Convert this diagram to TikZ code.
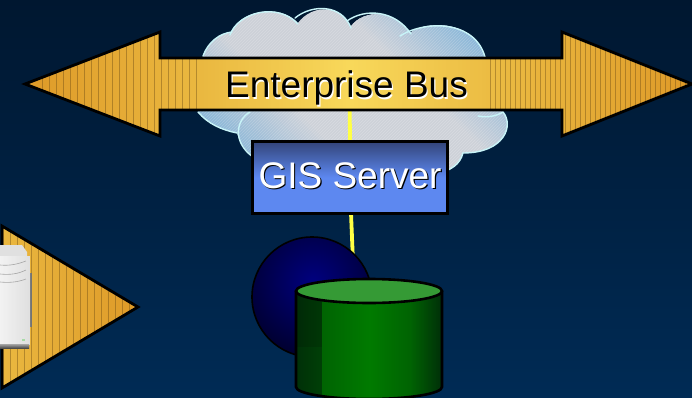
\documentclass[tikz,border=0pt]{standalone}
\usepackage{fontspec}
\setmainfont{Liberation Sans}
\usetikzlibrary{shapes.geometric,calc}
\definecolor{bgtop}{HTML}{001730}
\definecolor{bgbot}{HTML}{002B55}
\definecolor{cloudline}{HTML}{C8F4F8}
\definecolor{cloudblue}{HTML}{7AB0D8}
\definecolor{cloudgrey}{HTML}{CDD1D8}
\definecolor{goldend}{HTML}{DE9A28}
\definecolor{goldmid}{HTML}{F8D85A}
\definecolor{goldlight}{HTML}{EAB840}
\definecolor{wire}{HTML}{FFFF44}
\definecolor{boxtop}{HTML}{33457A}
\definecolor{boxbot}{HTML}{5D88F0}
\definecolor{lidgreen}{HTML}{359A35}
\definecolor{canmid}{HTML}{007A00}
\definecolor{canend}{HTML}{003008}
\newcommand{\shadowed}[3]{\leavevmode\rlap{\kern1.2pt\raisebox{-1.2pt}{\textcolor{#2}{#1}}}\textcolor{#3}{#1}}
% horizontal blend of colours #1 to #2 between x=#3 and x=#4, y from #5 to #6
\newcommand{\hblend}[6]{%
  \colorlet{hbA}{#1}\colorlet{hbB}{#2}%
  \pgfmathsetmacro{\hbstep}{(#4-#3)/40}%
  \foreach \i in {0,...,39} {%
    \pgfmathsetmacro{\hbp}{100*\i/39}%
    \pgfmathsetmacro{\hbx}{#3+\i*\hbstep}%
    \pgfmathsetmacro{\hbe}{\hbx+\hbstep+.6}%
    \fill[color=hbB!\hbp!hbA] (\hbx,#5) rectangle (\hbe,#6);
  }}
\tikzset{
  outline/.style={draw=black,line width=2.8pt,miter limit=10},
  cloudstroke/.style={draw=cloudline,line width=1.4pt,line cap=round},
  connector/.style={draw=wire,line width=3.8pt},
  stripe/.style={draw=black!55!goldend,line width=.8pt,opacity=.4},
  label/.style={font=\fontsize{37}{40}\selectfont,inner sep=0pt},
}
\begin{document}
\begin{tikzpicture}[x=1pt,y=-1pt]
\useasboundingbox (0,0) rectangle (692,398);
\shade[top color=bgtop,bottom color=bgbot] (0,0) rectangle (692,398);
% cloud
\def\cloudpath{(198,112) -- (203,56) .. controls (208,42) and (220,33) .. (232,32)
  .. controls (238,12) and (278,2) .. (298,23)
  .. controls (312,4) and (342,4) .. (350,27)
  .. controls (365,8) and (395,10) .. (410,33)
  .. controls (425,20) and (475,20) .. (485,57)
  -- (503,112) .. controls (514,125) and (505,153) .. (463,153)
  .. controls (460,165) and (450,170) .. (440,173)
  -- (253,173) -- (253,157) .. controls (245,150) and (240,142) .. (237,133)
  .. controls (222,130) and (208,124) .. (198,112) -- cycle}
\begin{scope}
  \clip \cloudpath;
  \fill[cloudgrey] (190,0) rectangle (515,180);
  % bluish towards the upper right and the lower left
  \foreach \s in {0,1,...,24} {
    \pgfmathsetmacro{\blu}{100*\s/24}
    \pgfmathsetmacro{\dx}{50+3.6*\s}
    \pgfmathsetmacro{\dy}{-.47*\dx}
    \draw[line width=5pt,color=cloudblue!\blu!cloudgrey]
      (350+\dx-110,90+\dy-110) -- (350+\dx+110,90+\dy+110);
    \draw[line width=5pt,color=cloudblue!\blu!cloudgrey]
      (350-\dx-110,90-\dy-110) -- (350-\dx+110,90-\dy+110);
  }
  \foreach \k in {0,3,...,510} {
    \draw[white,opacity=.2,line width=.7pt] (180+\k,0) -- (180+\k-190,190);
  }
\end{scope}
\draw[cloudstroke] (203,56) .. controls (208,42) and (220,33) .. (232,32);
\draw[cloudstroke] (230,35) .. controls (238,12) and (278,2) .. (298,24);
\draw[cloudstroke] (295,18) .. controls (312,4) and (342,4) .. (351,28);
\draw[cloudstroke] (347,21) .. controls (365,8) and (395,10) .. (411,34);
\draw[cloudstroke] (400,36) .. controls (425,20) and (475,20) .. (485,57);
\draw[cloudstroke] (198,112) .. controls (208,124) and (222,130) .. (237,133);
\draw[cloudstroke] (250,112) .. controls (236,120) and (232,142) .. (253,157);
\draw[cloudstroke] (478,116) .. controls (487,118) and (497,116) .. (503,112)
  .. controls (514,125) and (505,153) .. (463,153);
\draw[cloudstroke] (463,153) .. controls (460,165) and (450,170) .. (440,173);
% named elements
\node[label] (bus) at (346.5,89) {\phantom{Enterprise Bus}};
\node[minimum width=195pt,minimum height=71pt,inner sep=0pt] (server) at (350,177.5) {};
\node[circle,minimum size=120pt,inner sep=0pt] (globe) at (312,297) {};
\coordinate (wirein) at (353,262);
% connectors
\draw[connector] ([xshift=3pt]bus.center) -- ([xshift=0pt,yshift=2pt]server.north);
\draw[connector] ([xshift=1pt]server.south) -- (wirein);
% double arrow
\def\buspath{(25,84) -- (160,32) -- (160,58) -- (562,58) -- (562,32) -- (692,84) -- (562,136) -- (562,110) -- (160,110) -- (160,136) -- cycle}
\begin{scope}
  \clip \buspath;
  \hblend{goldend}{goldlight}{25}{200}{30}{138}
  \hblend{goldlight}{goldmid}{200}{350}{30}{138}
  \hblend{goldmid}{goldlight}{350}{510}{30}{138}
  \hblend{goldlight}{goldend}{510}{692}{30}{138}
  \foreach \x in {42,49,...,196} {\draw[stripe] (\x,30) -- (\x,138);}
  \foreach \x in {490,495,...,690} {\draw[stripe] (\x,30) -- (\x,138);}
\end{scope}
\draw[outline] \buspath;
\node[label] at (bus.center) {\shadowed{Enterprise Bus}{white}{black}};
% left triangle
\def\tripath{(2,226) -- (138,307) -- (2,388) -- cycle}
\begin{scope}
  \clip \tripath;
  \hblend{goldlight}{goldend}{0}{138}{225}{390}
  \foreach \x in {3,10,...,136} {\draw[stripe] (\x,225) -- (\x,390);}
\end{scope}
\draw[outline] \tripath;
% appliance at left edge
\hblend{black!15}{black!55}{26}{31}{273}{327}
\fill[black!12] (0,245) -- (22,245) -- (27,252) -- (27,258) -- (0,258) -- cycle;
\hblend{black!5}{black!12}{0}{29}{256}{345}
\shade[top color=black!35,bottom color=black!70] (0,344) rectangle (29,348);
\draw[black!35,line width=.6pt] (0,265) .. controls (10,266) and (18,264) .. (26,261);
\draw[black!35,line width=.6pt] (0,274) .. controls (10,275) and (18,274) .. (26,270);
\draw[black!35,line width=.6pt] (0,282) .. controls (10,283) and (18,282) .. (26,279);
\fill[green!60!black!35!white] (22,339) rectangle (25,341);
% server box
\shade[top color=boxtop,bottom color=boxbot,middle color=boxbot]
  (server.north west) rectangle (server.south east);
\draw[outline] (server.north west) rectangle (server.south east);
\node[label] at ([yshift=1pt]server.center) {\shadowed{GIS Server}{black}{white}};
% globe
\begin{scope}
  \clip (globe.center) circle (60);
  \shade[inner color=blue!50!black,outer color=blue!18!black] (313,282) circle (76);
\end{scope}
\draw[black,line width=1.6pt] (globe.center) circle (60);
% cylinder
\begin{scope}
  \clip (296,291) -- (296,387) arc[start angle=180,end angle=0,x radius=73,y radius=12] -- (442,291) -- cycle;
  \hblend{canend}{canend!80!canmid}{296}{322}{285}{400}
  \hblend{canmid!70!canend}{canmid}{322}{370}{285}{400}
  \hblend{canmid}{canmid!70!canend}{370}{410}{285}{400}
  \hblend{canmid!70!canend}{canend}{410}{442}{285}{400}
  \fill[black,opacity=.12] (296,291) rectangle (322,347);
\end{scope}
\draw[black,line width=2.6pt] (296,291) -- (296,387) arc[start angle=180,end angle=0,x radius=73,y radius=12] -- (442,291);
\path[fill=lidgreen,draw=black,line width=2.6pt] (369,291) ellipse[x radius=73,y radius=12];
\end{tikzpicture}
\end{document}
